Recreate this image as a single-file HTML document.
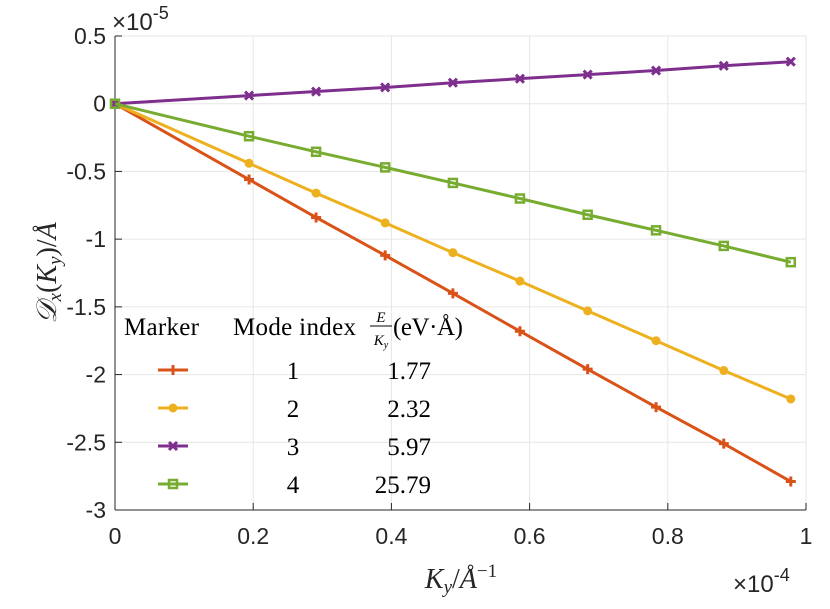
<!DOCTYPE html>
<html><head><meta charset="utf-8"><style>
body{margin:0;background:#fff;width:830px;height:604px;overflow:hidden}
svg text{font-family:"Liberation Sans",sans-serif}
.serif{font-family:"Liberation Serif",serif}
</style></head><body>
<svg id="chart" width="830" height="604" xmlns="http://www.w3.org/2000/svg">
<g id="grid"></g>
<g id="axes"></g>
<g id="series"></g>
<text x="112" y="30" font-size="24" fill="#262626">×10<tspan dy="-11" font-size="18">-5</tspan></text>
<text x="733" y="592" font-size="24" fill="#262626">×10<tspan dy="-11" font-size="18">-4</tspan></text>
<text class="serif" x="461" y="588" font-size="28" text-anchor="middle" font-style="italic" fill="#262626">K<tspan font-size="19" dy="5">y</tspan><tspan dy="-5" font-style="normal">/</tspan>Å<tspan font-size="19" dy="-11" font-style="normal">−1</tspan></text>
<text class="serif" transform="translate(56,273) rotate(-90)" font-size="28" text-anchor="middle" font-style="italic" fill="#262626">𝒟<tspan font-size="19" dy="5">x</tspan><tspan dy="-5" font-style="normal">(</tspan>K<tspan font-size="19" dy="5">y</tspan><tspan dy="-5" font-style="normal">)/</tspan>Å</text>
<g id="legend" class="serif" font-size="25" fill="#000">
<text x="124" y="335" class="serif" textLength="75">Marker</text>
<text x="233" y="335" class="serif" textLength="123">Mode index</text>
<text x="381" y="322" class="serif" font-size="15" font-style="italic" text-anchor="middle">E</text>
<line x1="370" y1="326" x2="392" y2="326" stroke="#000" stroke-width="1"/>
<text x="381" y="345" class="serif" font-size="15" font-style="italic" text-anchor="middle">K<tspan font-size="10" dy="3">y</tspan></text>
<text x="393" y="335" class="serif" textLength="70">(eV·Å)</text>
</g>
</svg>
<script>
const xVals=[0,0.194,0.291,0.391,0.489,0.586,0.684,0.783,0.881,0.978];
const seriesOrange=[0,-0.56,-0.84,-1.12,-1.40,-1.68,-1.96,-2.24,-2.51,-2.79];
const seriesYellow=[0,-0.44,-0.66,-0.88,-1.10,-1.31,-1.53,-1.75,-1.97,-2.18];
const seriesPurple=[0,0.06,0.09,0.12,0.155,0.185,0.215,0.245,0.28,0.31];
const seriesGreen=[0,-0.24,-0.355,-0.47,-0.585,-0.70,-0.82,-0.935,-1.05,-1.17];
const xTicks=[0,0.2,0.4,0.6,0.8,1];
const xTickLabels=["0","0.2","0.4","0.6","0.8","1"];
const yTicks=[0.5,0,-0.5,-1,-1.5,-2,-2.5,-3];
const yTickLabels=["0.5","0","-0.5","-1","-1.5","-2","-2.5","-3"];
const modeIdx=["1","2","3","4"];
const ratios=["1.77","2.32","5.97","25.79"];
const L=115,R=806,T=36,B=510;
const sx=v=>L+(v-0)/1*(R-L);
const sy=v=>T+(0.5-v)/3.5*(B-T);
const NS="http://www.w3.org/2000/svg";
function mk(tag,attrs,parent){const e=document.createElementNS(NS,tag);for(const k in attrs)e.setAttribute(k,attrs[k]);parent.appendChild(e);return e;}
const grid=document.getElementById('grid'),axes=document.getElementById('axes'),ser=document.getElementById('series'),leg=document.getElementById('legend');
xTicks.forEach((t,i)=>{
 const g=mk('line',{x1:sx(t),x2:sx(t),y1:T,y2:B,stroke:'#e6e6e6','stroke-width':1},grid);
 
 const tk=mk('line',{x1:sx(t),x2:sx(t),y1:B,y2:B-7,stroke:'#262626','stroke-width':1},axes);
 
 const tx=mk('text',{x:sx(t),y:B+34,'font-size':23,'text-anchor':'middle',fill:'#262626'},axes);tx.textContent=xTickLabels[i];
 
});
yTicks.forEach((t,i)=>{
 const g=mk('line',{x1:L,x2:R,y1:sy(t),y2:sy(t),stroke:'#e6e6e6','stroke-width':1},grid);
 
 const tk=mk('line',{x1:L,x2:L+7,y1:sy(t),y2:sy(t),stroke:'#262626','stroke-width':1},axes);
 
 const tx=mk('text',{x:L-9,y:sy(t)+8,'font-size':23,'text-anchor':'end',fill:'#262626'},axes);tx.textContent=yTickLabels[i];
 
});
const xa=mk('line',{x1:L,x2:R,y1:B,y2:B,stroke:'#262626','stroke-width':1},axes);

const ya=mk('line',{x1:L,x2:L,y1:T,y2:B,stroke:'#262626','stroke-width':1},axes);

function marker(type,x,y,c,p){
 if(type==='plus'){mk('path',{d:`M${x-5},${y}H${x+5}M${x},${y-5}V${y+5}`,stroke:c,'stroke-width':3,fill:'none'},p);}
 else if(type==='dot'){mk('circle',{cx:x,cy:y,r:4.5,fill:c},p);}
 else if(type==='x'){mk('path',{d:`M${x-4},${y-4}L${x+4},${y+4}M${x-4},${y+4}L${x+4},${y-4}`,stroke:c,'stroke-width':3,fill:'none'},p);}
 else {mk('rect',{x:x-4,y:y-4,width:8,height:8,stroke:c,'stroke-width':2.5,fill:'none'},p);}
}
const defs=[['orange',seriesOrange,'#d95319','plus'],['yellow',seriesYellow,'#edb120','dot'],['purple',seriesPurple,'#7e2f8e','x'],['green',seriesGreen,'#77ac30','square']];
defs.forEach(([n,vals,c,m])=>{
 const g=mk('g',{},ser);
 
 mk('polyline',{points:vals.map((v,i)=>sx(xVals[i])+','+sy(v)).join(' '),fill:'none',stroke:c,'stroke-width':3},g);
 vals.forEach((v,i)=>marker(m,sx(xVals[i]),sy(v),c,g));
});
defs.forEach(([n,vals,c,m],i)=>{
 const y=370+i*38;
 const g=mk('g',{},leg);
 
 mk('line',{x1:158,x2:188,y1:y,y2:y,stroke:c,'stroke-width':3},g);
 marker(m,173,y,c,g);
 const a=mk('text',{x:293,y:y+9,'text-anchor':'middle','font-size':25,class:'serif'},g);a.textContent=modeIdx[i];
 const b=mk('text',{x:431,y:y+9,'text-anchor':'end','font-size':25,class:'serif'},g);b.textContent=ratios[i];
});
</script>
</body></html>
